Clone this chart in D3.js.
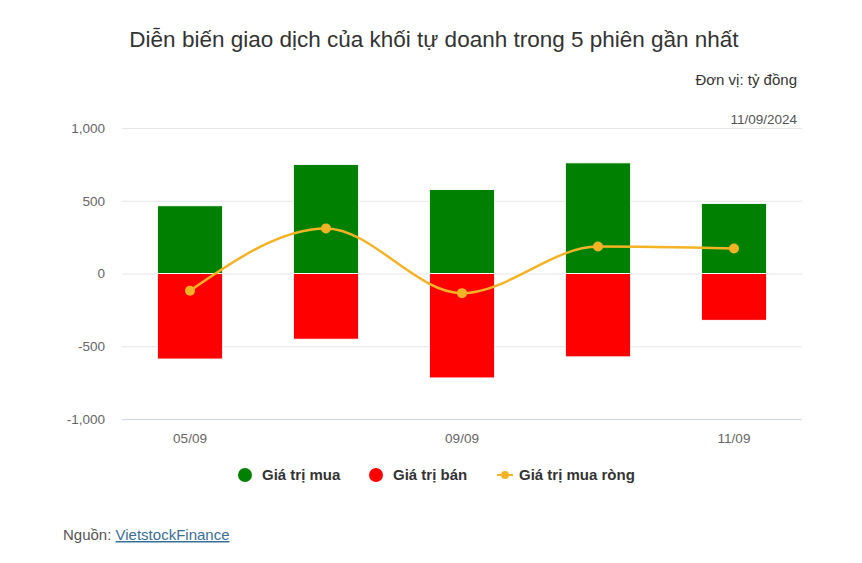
<!DOCTYPE html>
<html><head><meta charset="utf-8">
<script src="https://cdn.jsdelivr.net/npm/d3@7"></script>
<style>
body{margin:0;background:#fff;font-family:"Liberation Sans",Arial,sans-serif;}
</style></head><body>
<svg id="c" width="862" height="563"></svg>
<script>
const categories = ["05/09","06/09","09/09","10/09","11/09"];
const buyValues = [466, 750, 578, 761, 482];
const sellValues = [-588, -452, -718, -573, -322];
const netValues = [-118, 310, -135, 185, 172];
const yTicks = [-1000, -500, 0, 500, 1000];
const seriesNames = ["Giá trị mua", "Giá trị bán", "Giá trị mua ròng"];
const colors = {buy:"#008000", sell:"#ff0000", net:"#f4b324"};

const svg = d3.select("#c");
const plotL = 122, plotR = 802, plotT = 128, plotB = 419;
const x = d3.scaleBand().domain(categories).range([plotL, plotR]).padding(0);
const y = d3.scaleLinear().domain([-1000, 1000]).range([plotB, plotT]);
const bw = x.bandwidth() * 0.48;

// title
svg.append("text").attr("x", 434).attr("y", 47).attr("text-anchor","middle")
  .attr("font-size", 22.5).attr("fill","#333").text("Diễn biến giao dịch của khối tự doanh trong 5 phiên gần nhất");
svg.append("text").attr("x", 797).attr("y", 85).attr("text-anchor","end")
  .attr("font-size", 15).attr("fill","#333").text("Đơn vị: tỷ đồng");
svg.append("text").attr("x", 797).attr("y", 124).attr("text-anchor","end")
  .attr("font-size", 13.5).attr("fill","#555").text("11/09/2024");

// grid
const fmt = d3.format(",");
const yAxis = d3.axisLeft(y).tickValues(yTicks).tickSize(-(plotR-plotL)).tickFormat(d => fmt(d).replace("\u2212","-"));
const gy = svg.append("g").attr("transform", `translate(${plotL},0)`).call(yAxis);
gy.select(".domain").remove();
gy.selectAll(".tick line").attr("stroke", d => d === -1000 ? "#ccd6eb" : "#e6e6e6");
gy.selectAll(".tick text").attr("x", -17).attr("font-size", 13.5).attr("fill","#666")
  .attr("font-family","Liberation Sans, Arial, sans-serif");

// x axis labels (every other)
const xAxis = d3.axisBottom(x).tickSize(0).tickFormat((d,i) => i % 2 === 0 ? d : "");
const gx = svg.append("g").attr("transform", `translate(0,${plotB})`).call(xAxis);
gx.select(".domain").remove();
gx.selectAll(".tick text").attr("dy", 0).attr("y", 24).attr("font-size", 13.5).attr("fill","#666")
  .attr("font-family","Liberation Sans, Arial, sans-serif");

// bars
const cx = d => x(d) + x.bandwidth()/2;
svg.append("g").selectAll("rect").data(categories).join("rect")
  .attr("x", d => cx(d) - bw/2).attr("width", bw)
  .attr("y", (d,i) => y(buyValues[i])).attr("height", (d,i) => y(0) - y(buyValues[i]))
  .attr("fill", colors.buy).attr("stroke","#fff").attr("stroke-width",1);
svg.append("g").selectAll("rect").data(categories).join("rect")
  .attr("x", d => cx(d) - bw/2).attr("width", bw)
  .attr("y", y(0)).attr("height", (d,i) => y(sellValues[i]) - y(0))
  .attr("fill", colors.sell).attr("stroke","#fff").attr("stroke-width",1);

// net line
const line = d3.line().x((d,i) => cx(categories[i])).y(d => y(d)).curve(d3.curveMonotoneX);
svg.append("path").datum(netValues).attr("d", line).attr("fill","none")
  .attr("stroke", colors.net).attr("stroke-width", 2.5);
svg.append("g").selectAll("circle").data(netValues).join("circle")
  .attr("cx", (d,i) => cx(categories[i])).attr("cy", d => y(d)).attr("r", 5)
  .attr("fill", colors.net);

// legend
const lg = svg.append("g").attr("font-size", 15).attr("font-weight","bold").attr("fill","#333");
lg.append("circle").attr("cx", 245).attr("cy", 475).attr("r", 7).attr("fill", colors.buy);
lg.append("text").attr("x", 262).attr("y", 480).text(seriesNames[0]);
lg.append("circle").attr("cx", 376).attr("cy", 475).attr("r", 7).attr("fill", colors.sell);
lg.append("text").attr("x", 393).attr("y", 480).text(seriesNames[1]);
lg.append("line").attr("x1", 497).attr("x2", 513).attr("y1", 475).attr("y2", 475)
  .attr("stroke", colors.net).attr("stroke-width", 2);
lg.append("circle").attr("cx", 505).attr("cy", 475).attr("r", 4).attr("fill", colors.net);
lg.append("text").attr("x", 519).attr("y", 480).text(seriesNames[2]);

// source
const src = svg.append("text").attr("x", 63).attr("y", 540).attr("font-size", 15).attr("fill","#555");
src.append("tspan").text("Nguồn: ");
src.append("tspan").attr("fill","#3b6e97").attr("text-decoration","underline").text("VietstockFinance");
</script>
</body></html>
